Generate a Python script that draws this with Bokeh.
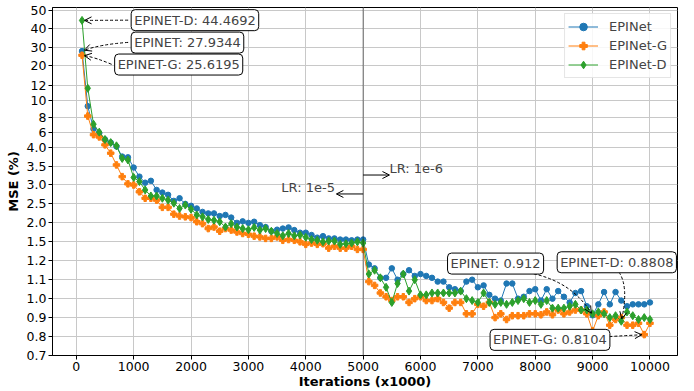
import numpy as np
from bokeh.plotting import figure
from bokeh.models import FixedTicker, Span, Label, Arrow, OpenHead, ColumnDataSource
from bokeh.embed import file_html
from bokeh.resources import INLINE

FONT = "DejaVu Sans"

# ---------------- data ----------------
iterations = list(range(100, 10001, 100))

epinet = [27.9344, 9.3, 6.43, 5.87, 5.02, 4.6, 4.09, 3.75, 3.73, 3.46,
          3.22, 3.06, 3.11, 2.87, 2.8, 2.74, 2.58, 2.65, 2.5, 2.45,
          2.38, 2.29, 2.25, 2.25, 2.18, 2.21, 2.14, 2.0, 2.04, 2.0,
          2.03, 1.94, 1.89, 1.78, 1.82, 1.85, 1.88, 1.81, 1.74, 1.74,
          1.68, 1.61, 1.65, 1.59, 1.59, 1.56, 1.56, 1.54, 1.56, 1.56,
          1.18, 1.16, 1.11, 1.11, 1.16, 1.10, 1.13, 1.15, 1.12, 1.13,
          1.12, 1.11, 1.09, 1.09, 1.06, 1.05, 1.04, 1.09, 1.10, 1.06,
          1.07, 1.02, 1.0, 0.99, 1.08, 1.08, 1.0, 1.01, 1.04, 1.05,
          0.99, 1.05, 1.0, 1.04, 1.01, 0.98, 1.03, 1.04, 0.96, 0.912,
          0.97, 1.035, 0.97, 1.035, 0.99, 0.96, 0.97, 0.97, 0.97, 0.98]

epinet_g = [25.6195, 8.13, 5.66, 5.36, 4.3, 3.84, 3.53, 3.22, 3.03, 3.0,
            2.82, 2.65, 2.65, 2.6, 2.41, 2.41, 2.23, 2.18, 2.16, 2.14,
            2.03, 1.98, 1.85, 1.89, 1.78, 1.85, 1.81, 1.76, 1.72, 1.70,
            1.65, 1.63, 1.59, 1.59, 1.63, 1.54, 1.56, 1.54, 1.50, 1.46,
            1.48, 1.46, 1.47, 1.40, 1.43, 1.40, 1.40, 1.43, 1.38, 1.38,
            1.09, 1.07, 1.03, 1.01, 0.99, 1.01, 1.01, 0.98, 1.0, 1.01,
            0.99, 0.99, 1.0, 0.98, 0.95, 0.98, 0.98, 0.92, 0.92, 0.97,
            0.96, 0.98, 0.9, 0.92, 0.89, 0.91, 0.91, 0.91, 0.92, 0.92,
            0.915, 0.93, 0.915, 0.94, 0.92, 0.93, 0.94, 0.94, 0.92, 0.83,
            0.91, 0.93, 0.86, 0.89, 0.90, 0.86, 0.86, 0.87, 0.8104, 0.87]

epinet_d = [44.4692, 11.6, 7.06, 6.0, 5.02, 4.6, 4.17, 3.7, 3.66, 3.2,
            3.09, 2.87, 2.71, 2.71, 2.65, 2.6, 2.52, 2.38, 2.47, 2.36,
            2.21, 2.16, 2.09, 2.07, 2.03, 1.89, 1.98, 1.89, 1.85, 1.82,
            1.88, 1.81, 1.85, 1.78, 1.72, 1.66, 1.72, 1.66, 1.68, 1.62,
            1.56, 1.54, 1.50, 1.52, 1.52, 1.46, 1.47, 1.48, 1.50, 1.48,
            1.13, 1.15, 1.11, 1.06, 0.98, 1.08, 1.13, 1.04, 1.10, 1.02,
            1.02, 1.03, 1.03, 1.03, 1.03, 1.03, 1.04, 1.0, 0.99, 0.98,
            1.03, 0.98, 0.97, 0.98, 0.97, 0.98, 0.99, 1.0, 0.98, 0.99,
            0.97, 0.99, 0.95, 0.95, 0.95, 0.96, 0.97, 0.94, 0.94, 0.92,
            0.93, 0.92, 0.90, 0.91, 0.8808, 0.93, 0.91, 0.89, 0.90, 0.89]

x_ticks = list(range(0, 10001, 1000))
y_tick_values = [0.7, 0.8, 0.9, 1.0, 1.1, 1.2, 1.5, 2.0, 2.5, 3.0, 3.5, 4.0,
                 6, 8, 10, 12, 20, 30, 40, 50]
y_tick_labels = ["0.7", "0.8", "0.9", "1.0", "1.1", "1.2", "1.5", "2.0", "2.5",
                 "3.0", "3.5", "4.0", "6", "8", "10", "12", "20", "30", "40", "50"]
# position of each tick on the (piecewise) value axis
y_tick_pos = [0, 19, 38, 57, 76, 95, 114, 133, 152, 171, 190, 209,
              224, 239, 256, 271, 291, 309, 328, 346]


def to_pos(v):
    return np.interp(v, y_tick_values, y_tick_pos)


# helpers for annotation layout (reference pixel -> axis coordinates)
def rx(px):
    return (px - 76.2) / 0.0573


def ry(py):
    return 356.0 - py


def px_of(x, pos):
    return 76.2 + 0.0573 * x, 356.0 - pos


BLUE, ORANGE, GREEN = "#1f77b4", "#ff7f0e", "#2ca02c"

p = figure(width=686, height=391, output_backend="svg", toolbar_location=None,
           x_range=(-415, 10480), y_range=(0, 349),
           min_border_left=52, min_border_right=9, min_border_top=7,
           min_border_bottom=0)
p.background_fill_color = "white"
p.border_fill_color = "white"
p.outline_line_color = "black"
p.outline_line_width = 1
p.outline_line_alpha = 1

p.xaxis.ticker = FixedTicker(ticks=x_ticks)
p.yaxis.ticker = FixedTicker(ticks=y_tick_pos)
p.yaxis.major_label_overrides = {pos: lab for pos, lab in zip(y_tick_pos, y_tick_labels)}
p.xaxis.axis_label = "Iterations (x1000)"
p.yaxis.axis_label = "MSE (%)"
for ax in (p.xaxis, p.yaxis):
    ax.major_tick_in = 0
    ax.major_tick_out = 4
    ax.minor_tick_in = 0
    ax.minor_tick_out = 0
    ax.major_label_text_font = FONT
    ax.major_label_text_font_size = "12.5px"
    ax.major_label_text_color = "black"
    ax.axis_label_text_font = FONT
    ax.axis_label_text_font_size = "13px"
    ax.axis_label_text_font_style = "bold"
    ax.axis_label_text_color = "black"
    ax.axis_line_color = "black"
    ax.major_tick_line_color = "black"
    ax.major_label_standoff = 2
p.xaxis.axis_label_standoff = 0
p.yaxis.axis_label_standoff = 3

p.grid.grid_line_color = "#c8c8c8"
p.grid.grid_line_width = 1

src = ColumnDataSource(dict(x=iterations,
                            b=to_pos(epinet), g=to_pos(epinet_g), d=to_pos(epinet_d)))

p.line("x", "b", source=src, color=BLUE, line_width=1, legend_label="EPINet")
p.scatter("x", "b", source=src, marker="circle", size=5.5, color=BLUE,
          legend_label="EPINet")
p.line("x", "g", source=src, color=ORANGE, line_width=1, legend_label="EPINet-G")
p.scatter("x", "g", source=src, marker="plus", size=6.5, color=ORANGE,
          legend_label="EPINet-G")
p.line("x", "d", source=src, color=GREEN, line_width=1, legend_label="EPINet-D")
p.scatter("x", "d", source=src, marker="diamond", size=8, color=GREEN,
          legend_label="EPINet-D")

lg = p.legend[0]
lg.location = "top_right"
lg.margin = 6
lg.padding = 3
lg.spacing = 0
lg.label_height = 19
lg.glyph_height = 19
lg.glyph_width = 30
lg.label_standoff = 11
lg.label_text_font = FONT
lg.label_text_font_size = "13px"
lg.border_line_color = "#cccccc"
lg.border_line_width = 1
lg.background_fill_alpha = 0.85

# learning-rate change
p.add_layout(Span(location=5000, dimension="height", line_color="black",
                  line_dash="1 1", line_width=1))
p.add_layout(Label(x=rx(281), y=ry(187.5), text="LR: 1e-5", text_font=FONT,
                   text_font_size="13px", text_align="left", text_baseline="middle"))
p.add_layout(Label(x=rx(389), y=ry(168), text="LR: 1e-6", text_font=FONT,
                   text_font_size="13px", text_align="left", text_baseline="middle"))
p.add_layout(Arrow(end=OpenHead(size=7, line_color="black", line_width=1),
                   x_start=5000, y_start=ry(194), x_end=rx(336), y_end=ry(194),
                   line_color="black", line_width=1))
p.add_layout(Arrow(end=OpenHead(size=7, line_color="black", line_width=1),
                   x_start=5000, y_start=ry(175), x_end=rx(389), y_end=ry(175),
                   line_color="black", line_width=1))

# value annotations: (text, left px, centre px, series, index, arrow start, control)
notes = [
    ("EPINET-D: 44.4692", 131, 19.7, epinet_d, 0, (128, 19.7), None),
    ("EPINET: 27.9344", 131, 42.2, epinet, 0, (128, 42.0), (100, 44)),
    ("EPINET-G: 25.6195", 114.5, 64.2, epinet_g, 0, (111.5, 64.0), (95, 57)),
    ("EPINET: 0.912", 447, 263.8, epinet, 89, (533, 274), (572, 283)),
    ("EPINET-D: 0.8808", 556.5, 262.5, epinet_d, 94, (618.3, 272.5), (628, 287)),
    ("EPINET-G: 0.8104", 489.5, 340.3, epinet_g, 98, (608.5, 337), None),
]
for text, lx, ly, series, idx, start, ctrl in notes:
    p.add_layout(Label(x=rx(lx), y=ry(ly), text=text, text_font=FONT,
                       text_font_size="13px", text_align="left",
                       text_baseline="middle", background_fill_color="white",
                       border_line_color="black", border_line_width=1,
                       padding=3, border_radius=4))
    ex, ey = px_of(iterations[idx], float(to_pos(series[idx])))
    sx, sy = start
    cx, cy = ctrl if ctrl is not None else ((sx + ex) / 2, (sy + ey) / 2)
    dx, dy = ex - cx, ey - cy
    L = (dx * dx + dy * dy) ** 0.5
    ex2, ey2 = ex - dx / L * 2.5, ey - dy / L * 2.5
    p.quadratic(x0=[rx(sx)], y0=[ry(sy)], x1=[rx(ex2)], y1=[ry(ey2)],
                cx=[rx(cx)], cy=[ry(cy)], line_color="black", line_width=1,
                line_dash="3 2")
    hx, hy = ex2 - dx / L * 4, ey2 - dy / L * 4
    p.add_layout(Arrow(end=OpenHead(size=7, line_color="black", line_width=1),
                       x_start=rx(hx), y_start=ry(hy), x_end=rx(ex2), y_end=ry(ey2),
                       line_alpha=0))

open("out.html", "w").write(file_html(p, INLINE))
